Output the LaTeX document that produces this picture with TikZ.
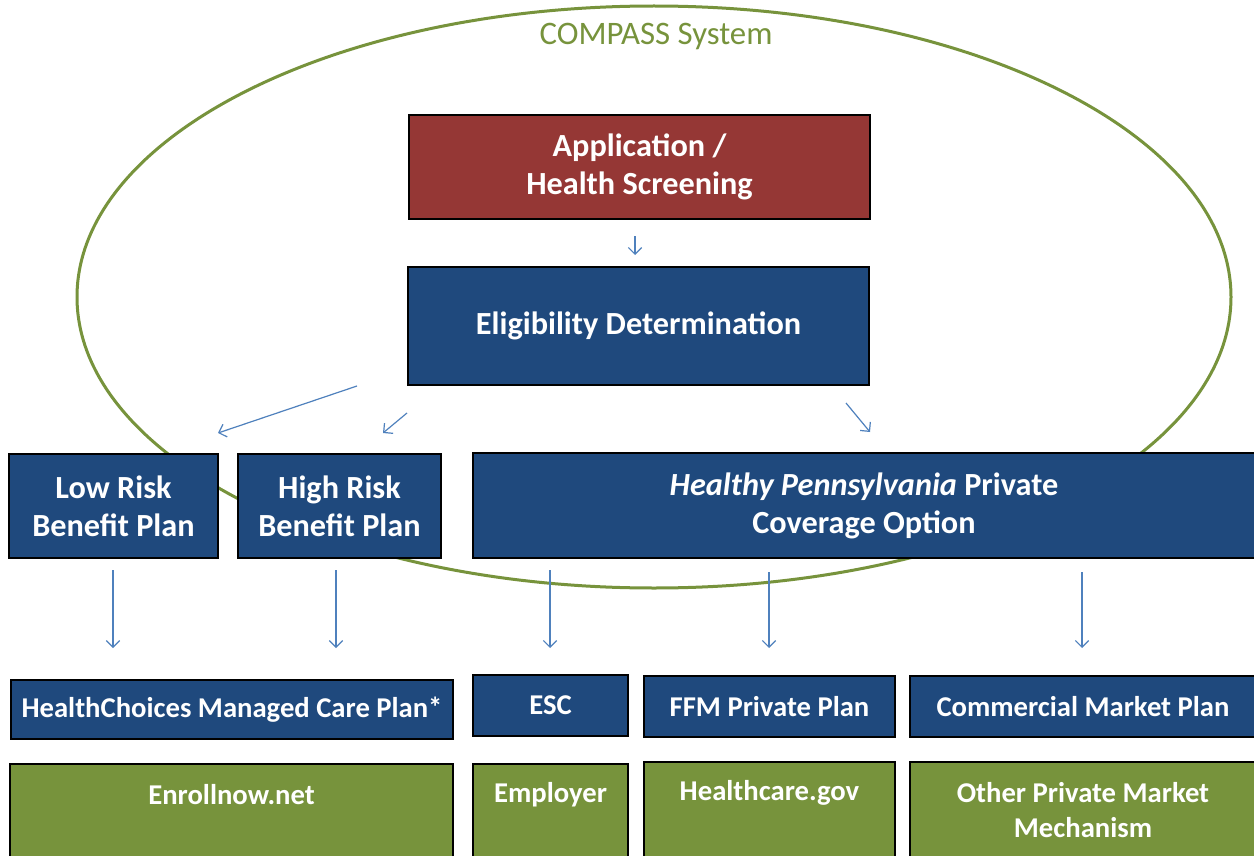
\documentclass[tikz,border=0pt]{standalone}
\usepackage{fontspec}
\setmainfont{Carlito}
\usetikzlibrary{arrows.meta}
\definecolor{boxblue}{HTML}{1F497D}
\definecolor{boxred}{HTML}{953735}
\definecolor{olivegreen}{HTML}{77933C}
\definecolor{arrowblue}{HTML}{4F81BD}
\begin{document}
\begin{tikzpicture}[x=0.75pt,y=-0.75pt,
  every node/.style={inner sep=0pt, outer sep=0pt},
  bx/.style={draw=black, line width=1.1pt, text=white, align=center,
    font=\bfseries\fontsize{24.2}{28.5}\selectfont},
  bluebx/.style={bx, fill=boxblue},
  redbx/.style={bx, fill=boxred},
  greenbx/.style={bx, fill=olivegreen},
  smallbx/.style={font=\bfseries\fontsize{21.5}{26.25}\selectfont},
  lbl/.style={text=white, align=center, font=\bfseries\fontsize{21.5}{26.25}\selectfont},
  arr/.style={draw=arrowblue, line width=0.9pt, -{Straight Barb[length=5pt,width=10pt]}}
]
\clip (0,0) rectangle (1254,856);
\fill[white] (0,0) rectangle (1254,856);
\draw[olivegreen, line width=2.25pt] (654,297) ellipse [x radius=577, y radius=291];
\node[text=olivegreen, font=\fontsize{24.6}{28}\selectfont] (compass) at (656,37) {COMPASS System};

\node[redbx, minimum width=345.75pt, minimum height=78pt] (app) at (639.5,167) {Application /\\Health Screening};
\node[bluebx, minimum width=345.75pt, minimum height=88.5pt] (elig) at (638.5,326) {Eligibility Determination};

\node[bluebx, minimum width=156.75pt, minimum height=78pt] (low) at (113.5,506) {Low Risk\\Benefit Plan};
\node[bluebx, minimum width=152.25pt, minimum height=78pt] (high) at (339.5,506) {High Risk\\Benefit Plan};
\node[bluebx, minimum width=586.5pt, minimum height=78.75pt] (pa) at (864,505.5) {\textit{Healthy Pennsylvania} Private\\Coverage Option};

\node[bluebx, smallbx, minimum width=331.5pt, minimum height=44.25pt] (hcmc) at (232,709.5) {HealthChoices Managed Care Plan*};
\node[bluebx, smallbx, minimum width=116.25pt, minimum height=45.75pt] (esc) at (550.5,705.5) {ESC};
\node[bluebx, smallbx, minimum width=188.25pt, minimum height=45.75pt] (ffm) at (769.5,706.5) {FFM Private Plan};
\node[bluebx, smallbx, minimum width=259.5pt, minimum height=45.75pt] (comm) at (1083,706.5) {Commercial Market Plan};

\node[greenbx, minimum width=332.25pt, minimum height=87pt] (enroll) at (231.5,822) {};
\node[greenbx, minimum width=116.25pt, minimum height=87pt] (employer) at (550.5,822) {};
\node[greenbx, minimum width=188.25pt, minimum height=88.5pt] (hcgov) at (769.5,821) {};
\node[greenbx, minimum width=259.5pt, minimum height=88.5pt] (other) at (1083,821) {};
\node[lbl] (enrollT) at (231.5,795) {Enrollnow.net};
\node[lbl] (employerT) at (550.5,795) {Employer};
\node[lbl] (hcgovT) at (769.5,793) {Healthcare.gov};
\node[lbl] (otherT) at (1083,810) {Other Private Market\\Mechanism};

\coordinate (a1s) at (635,236); \coordinate (a1e) at (635,255);
\coordinate (a2s) at (357,386); \coordinate (a2e) at (218,433);
\coordinate (a3s) at (407,413); \coordinate (a3e) at (383,433);
\coordinate (a4s) at (846,403); \coordinate (a4e) at (870,432);
\coordinate (a5s) at (113,570); \coordinate (a5e) at (113,648);
\coordinate (a6s) at (336,570); \coordinate (a6e) at (336,648);
\coordinate (a7s) at (550,570); \coordinate (a7e) at (550,648);
\coordinate (a8s) at (769,572); \coordinate (a8e) at (769,648);
\coordinate (a9s) at (1082,572); \coordinate (a9e) at (1082,648);
\foreach \i in {1,...,9} {\draw[arr] (a\i s) -- (a\i e);}
\end{tikzpicture}
\end{document}
